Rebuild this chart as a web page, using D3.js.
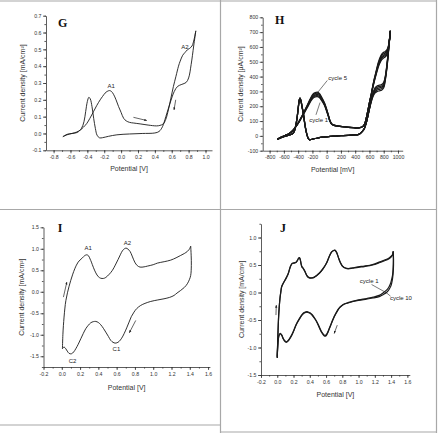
<!DOCTYPE html>
<html>
<head>
<meta charset="utf-8">
<script src="https://cdn.jsdelivr.net/npm/d3@7"></script>
<style>
  body { margin: 0; background: #fff; }
  svg { display: block; font-family: "Liberation Sans", Arial, sans-serif; }
</style>
</head>
<body>
<svg id="chart" width="439" height="433"></svg>
<script>
// ---------- tick values ----------
const gXTicks = [-0.8, -0.6, -0.4, -0.2, 0.0, 0.2, 0.4, 0.6, 0.8, 1.0];
const gYTicks = [-0.1, 0.0, 0.1, 0.2, 0.3, 0.4, 0.5, 0.6, 0.7];
const hXTicks = [-800, -600, -400, -200, 0, 200, 400, 600, 800, 1000];
const hYTicks = [-100, 0, 100, 200, 300, 400, 500, 600, 700, 800];
const iXTicks = [-0.2, 0.0, 0.2, 0.4, 0.6, 0.8, 1.0, 1.2, 1.4, 1.6];
const iYTicks = [-1.5, -1.0, -0.5, 0.0, 0.5, 1.0, 1.5];
const jXTicks = [-0.2, 0.0, 0.2, 0.4, 0.6, 0.8, 1.0, 1.2, 1.4, 1.6];
const jYTicks = [-1.5, -1.0, -0.5, 0.0, 0.5, 1.0];

// ---------- G : potential [V], current [mA/cm2] ----------
const gForward = [[-0.69,-0.019],[-0.64,-0.005],[-0.58,0.0],[-0.52,0.006],[-0.47,0.03],[-0.44,0.07],[-0.42,0.13],
  [-0.40,0.19],[-0.382,0.215],[-0.365,0.205],[-0.345,0.16],[-0.325,0.09],[-0.305,0.03],[-0.285,-0.01],[-0.255,-0.026],
  [-0.22,-0.025],[-0.15,-0.017],[-0.05,-0.008],[0.1,-0.003],[0.25,0.0],[0.40,0.003],[0.45,0.012],[0.49,0.04],[0.53,0.1],
  [0.58,0.18],[0.63,0.25],[0.67,0.28],[0.72,0.292],[0.77,0.303],[0.80,0.33],[0.83,0.41],[0.86,0.52],[0.885,0.61]];
const gReverse = [[0.885,0.61],[0.865,0.56],[0.84,0.52],[0.81,0.505],[0.785,0.497],[0.755,0.48],[0.73,0.465],[0.70,0.43],
  [0.68,0.40],[0.65,0.34],[0.62,0.28],[0.59,0.21],[0.56,0.14],[0.53,0.085],[0.50,0.057],[0.46,0.048],[0.42,0.045],
  [0.32,0.05],[0.225,0.057],[0.15,0.062],[0.10,0.066],[0.06,0.075],[0.03,0.09],[0.0,0.125],[-0.03,0.16],[-0.06,0.2],
  [-0.09,0.233],[-0.115,0.25],[-0.138,0.255],[-0.165,0.25],[-0.19,0.24],[-0.22,0.22],[-0.248,0.2],[-0.29,0.165],
  [-0.327,0.13],[-0.37,0.09],[-0.406,0.06],[-0.445,0.038],[-0.485,0.02],[-0.53,0.008],[-0.583,0.0],[-0.63,-0.006],[-0.69,-0.019]];

// ---------- H : potential [mV], current [uA/cm2], cycles 1..5 ----------
const hCycle1Fwd = [[-693,-23],[-640,-12],[-580,-2],[-520,6],[-480,14],[-455,30],[-435,65],[-415,120],[-398,188],[-384,238],
  [-374,250],[-362,236],[-345,194],[-327,150],[-308,85],[-290,35],[-272,0],[-255,-20],[-240,-27],[-200,-22],[-140,-16],
  [-60,-9],[0,-6],[100,-2],[200,1],[300,4],[400,6],[440,9],[470,16],[500,30],[530,52],[560,96],[590,160],[620,220],
  [650,265],[680,290],[710,300],[740,304],[770,308],[800,325],[825,385],[850,480],[870,585],[893,705]];
const hCycle2Fwd = [[-693,-23],[-640,-12],[-580,-2],[-520,6],[-480,14],[-455,30],[-435,65],[-415,121],[-398,190],[-384,240],
  [-374,252],[-362,238],[-345,195],[-327,150],[-308,85],[-290,35],[-272,0],[-255,-20],[-240,-27],[-200,-22],[-140,-16],
  [-60,-9],[0,-6],[100,-2],[200,1],[300,4],[400,6],[440,9],[470,16],[500,30],[530,52],[560,97],[590,161],[620,224],
  [650,272],[680,299],[710,310],[740,314],[770,318],[800,334],[825,392],[850,486],[870,590],[893,707]];
const hCycle3Fwd = [[-693,-23],[-640,-12],[-580,-2],[-520,6],[-480,14],[-455,30],[-435,65],[-415,121],[-398,192],[-384,242],
  [-374,254],[-362,240],[-345,196],[-327,151],[-308,86],[-290,36],[-272,0],[-255,-20],[-240,-27],[-200,-22],[-140,-16],
  [-60,-9],[0,-6],[100,-2],[200,1],[300,4],[400,6],[440,9],[470,16],[500,30],[530,52],[560,97],[590,162],[620,228],
  [650,280],[680,308],[710,320],[740,324],[770,328],[800,344],[825,398],[850,493],[870,594],[893,708]];
const hCycle4Fwd = [[-693,-23],[-640,-12],[-580,-2],[-520,6],[-480,14],[-455,30],[-435,65],[-415,122],[-398,194],[-384,244],
  [-374,255],[-362,241],[-345,197],[-327,152],[-308,86],[-290,36],[-272,0],[-255,-20],[-240,-27],[-200,-22],[-140,-16],
  [-60,-9],[0,-6],[100,-2],[200,1],[300,4],[400,6],[440,9],[470,16],[500,30],[530,52],[560,98],[590,164],[620,232],
  [650,286],[680,316],[710,329],[740,333],[770,337],[800,353],[825,404],[850,499],[870,597],[893,709]];
const hCycle5Fwd = [[-693,-23],[-640,-12],[-580,-2],[-520,6],[-480,14],[-455,30],[-435,65],[-415,122],[-398,195],[-384,245],
  [-374,256],[-362,242],[-345,198],[-327,152],[-308,86],[-290,36],[-272,0],[-255,-20],[-240,-27],[-200,-22],[-140,-16],
  [-60,-9],[0,-6],[100,-2],[200,1],[300,4],[400,6],[440,9],[470,16],[500,30],[530,52],[560,98],[590,165],[620,235],
  [650,292],[680,325],[710,338],[740,342],[770,346],[800,362],[825,410],[850,505],[870,600],[893,710]];
const hCycle1Rev = [[893,705],[880,640],[862,580],[841,545],[815,530],[794,524],[770,512],[745,490],[724,465],[700,425],
  [680,390],[664,360],[640,310],[620,262],[607,237],[585,185],[560,128],[537,85],[510,64],[467,55],[420,53],[374,55],
  [300,58],[220,62],[140,67],[100,71],[70,78],[45,100],[23,132],[0,165],[-30,205],[-70,238],[-100,257],[-131,265],
  [-160,263],[-196,252],[-230,228],[-271,192],[-320,150],[-374,104],[-420,70],[-467,40],[-520,18],[-561,7],[-620,-5],[-693,-23]];
const hCycle2Rev = [[893,707],[880,643],[862,585],[841,553],[815,540],[794,534],[770,522],[745,499],[724,473],[700,432],
  [680,395],[664,364],[640,312],[620,264],[607,239],[585,186],[560,129],[537,85],[510,64],[467,55],[420,53],[374,55],
  [300,58],[220,62],[140,67],[100,72],[70,79],[45,101],[23,135],[0,169],[-30,209],[-70,244],[-100,264],[-131,272],
  [-160,270],[-196,259],[-230,234],[-271,196],[-320,152],[-374,105],[-420,70],[-467,40],[-520,18],[-561,7],[-620,-5],[-693,-23]];
const hCycle3Rev = [[893,708],[880,645],[862,590],[841,561],[815,549],[794,543],[770,531],[745,507],[724,480],[700,438],
  [680,400],[664,369],[640,315],[620,266],[607,240],[585,187],[560,129],[537,86],[510,64],[467,55],[420,53],[374,55],
  [300,58],[220,62],[140,67],[100,72],[70,80],[45,102],[23,137],[0,172],[-30,213],[-70,249],[-100,271],[-131,280],
  [-160,277],[-196,266],[-230,240],[-271,201],[-320,155],[-374,106],[-420,71],[-467,40],[-520,18],[-561,7],[-620,-5],[-693,-23]];
const hCycle4Rev = [[893,709],[880,648],[862,595],[841,570],[815,558],[794,553],[770,541],[745,516],[724,488],[700,444],
  [680,405],[664,374],[640,318],[620,268],[607,241],[585,189],[560,130],[537,86],[510,65],[467,56],[420,54],[374,56],
  [300,59],[220,63],[140,68],[100,73],[70,80],[45,104],[23,140],[0,176],[-30,218],[-70,255],[-100,278],[-131,288],
  [-160,285],[-196,273],[-230,245],[-271,205],[-320,158],[-374,108],[-420,71],[-467,41],[-520,18],[-561,7],[-620,-5],[-693,-23]];
const hCycle5Rev = [[893,710],[880,650],[862,600],[841,578],[815,568],[794,562],[770,550],[745,525],[724,495],[700,450],
  [680,410],[664,378],[640,320],[620,270],[607,243],[585,190],[560,130],[537,86],[510,65],[467,56],[420,54],[374,56],
  [300,59],[220,63],[140,68],[100,73],[70,81],[45,105],[23,142],[0,180],[-30,222],[-70,260],[-100,284],[-131,295],
  [-160,292],[-196,280],[-230,250],[-271,209],[-320,160],[-374,110],[-420,72],[-467,41],[-520,18],[-561,7],[-620,-5],[-693,-23]];

// ---------- I : potential [V], current [mA/cm2] ----------
const iForward = [[0.007,-1.326],[0.012,-1.0],[0.018,-0.78],[0.033,-0.40],[0.045,-0.2],[0.062,-0.023],[0.08,0.13],
  [0.098,0.264],[0.12,0.41],[0.142,0.535],[0.16,0.62],[0.179,0.69],[0.2,0.74],[0.226,0.79],[0.25,0.84],[0.273,0.86],
  [0.291,0.84],[0.31,0.76],[0.324,0.69],[0.345,0.57],[0.372,0.44],[0.4,0.35],[0.426,0.315],[0.455,0.31],[0.481,0.333],
  [0.52,0.41],[0.554,0.50],[0.585,0.62],[0.616,0.752],[0.64,0.86],[0.663,0.953],[0.685,1.0],[0.703,1.016],[0.725,0.99],
  [0.747,0.938],[0.77,0.83],[0.798,0.69],[0.825,0.61],[0.856,0.574],[0.9,0.58],[0.936,0.597],[1.0,0.63],[1.046,0.667],
  [1.12,0.7],[1.191,0.736],[1.25,0.79],[1.3,0.845],[1.34,0.89],[1.373,0.938],[1.395,0.99],[1.41,1.062]];
const iReverse = [[1.41,1.062],[1.415,0.85],[1.417,0.612],[1.41,0.38],[1.395,0.28],[1.373,0.186],[1.34,0.1],[1.3,0.031],
  [1.26,-0.03],[1.228,-0.085],[1.18,-0.13],[1.118,-0.163],[1.05,-0.19],[0.973,-0.225],[0.91,-0.27],[0.863,-0.318],
  [0.82,-0.39],[0.79,-0.473],[0.76,-0.58],[0.736,-0.705],[0.71,-0.84],[0.681,-0.977],[0.655,-1.08],[0.627,-1.155],
  [0.605,-1.185],[0.583,-1.194],[0.56,-1.175],[0.536,-1.132],[0.51,-1.04],[0.481,-0.938],[0.455,-0.85],[0.426,-0.767],
  [0.4,-0.715],[0.372,-0.69],[0.345,-0.695],[0.317,-0.721],[0.29,-0.78],[0.262,-0.86],[0.235,-0.97],[0.208,-1.093],
  [0.18,-1.22],[0.153,-1.326],[0.13,-1.4],[0.106,-1.442],[0.08,-1.434],[0.06,-1.38],[0.044,-1.326],[0.026,-1.287],
  [0.015,-1.3],[0.007,-1.326]];

// ---------- J : potential [V], current [mA/cm2], cycle 1 and cycle 10 ----------
const jCycle1Fwd = [[0.0,-1.168],[0.005,-0.9],[0.012,-0.593],[0.02,-0.35],[0.033,-0.109],[0.045,0.03],[0.053,0.103],
  [0.07,0.16],[0.094,0.224],[0.115,0.28],[0.135,0.345],[0.152,0.43],[0.168,0.496],[0.185,0.53],[0.21,0.54],[0.23,0.548],
  [0.25,0.59],[0.262,0.625],[0.272,0.635],[0.283,0.6],[0.292,0.53],[0.303,0.47],[0.315,0.45],[0.328,0.42],[0.345,0.37],
  [0.369,0.3],[0.395,0.27],[0.422,0.268],[0.455,0.28],[0.484,0.31],[0.515,0.35],[0.545,0.4],[0.575,0.46],[0.607,0.54],
  [0.64,0.66],[0.668,0.74],[0.69,0.765],[0.709,0.77],[0.73,0.73],[0.75,0.648],[0.775,0.55],[0.803,0.48],[0.84,0.445],
  [0.873,0.436],[0.93,0.45],[0.996,0.466],[1.07,0.48],[1.139,0.496],[1.2,0.52],[1.262,0.557],[1.32,0.59],[1.365,0.617],
  [1.4,0.66],[1.418,0.69],[1.426,0.75]];
const jCycle1Rev = [[1.426,0.75],[1.428,0.617],[1.425,0.45],[1.418,0.315],[1.405,0.23],[1.393,0.163],[1.37,0.09],
  [1.344,0.042],[1.3,-0.01],[1.262,-0.048],[1.18,-0.085],[1.098,-0.109],[1.0,-0.135],[0.934,-0.157],[0.87,-0.185],
  [0.811,-0.218],[0.775,-0.26],[0.75,-0.303],[0.72,-0.38],[0.689,-0.472],[0.665,-0.56],[0.639,-0.654],[0.618,-0.73],
  [0.598,-0.775],[0.582,-0.778],[0.566,-0.757],[0.54,-0.7],[0.516,-0.623],[0.49,-0.54],[0.463,-0.472],[0.43,-0.405],
  [0.402,-0.369],[0.375,-0.35],[0.352,-0.351],[0.325,-0.37],[0.299,-0.412],[0.27,-0.48],[0.238,-0.563],[0.205,-0.68],
  [0.176,-0.775],[0.145,-0.85],[0.115,-0.896],[0.095,-0.88],[0.074,-0.835],[0.055,-0.77],[0.041,-0.745],[0.025,-0.763],
  [0.012,-0.85],[0.005,-0.98],[0.0,-1.168]];
const jCycle10Fwd = [[0.0,-1.19],[0.005,-0.92],[0.012,-0.6],[0.02,-0.36],[0.033,-0.115],[0.045,0.02],[0.053,0.095],
  [0.07,0.155],[0.094,0.218],[0.115,0.275],[0.135,0.34],[0.152,0.425],[0.168,0.49],[0.185,0.525],[0.21,0.535],[0.23,0.545],
  [0.25,0.585],[0.262,0.62],[0.272,0.63],[0.283,0.595],[0.292,0.525],[0.303,0.465],[0.315,0.445],[0.328,0.415],[0.345,0.365],
  [0.369,0.295],[0.395,0.265],[0.422,0.262],[0.455,0.275],[0.484,0.305],[0.515,0.345],[0.545,0.395],[0.575,0.455],[0.607,0.535],
  [0.64,0.655],[0.668,0.735],[0.69,0.76],[0.709,0.765],[0.73,0.725],[0.75,0.643],[0.775,0.545],[0.803,0.475],[0.84,0.44],
  [0.873,0.43],[0.93,0.443],[0.996,0.458],[1.07,0.472],[1.139,0.488],[1.2,0.51],[1.262,0.545],[1.32,0.578],[1.365,0.605],
  [1.4,0.645],[1.418,0.68],[1.426,0.74]];
const jCycle10Rev = [[1.426,0.74],[1.43,0.6],[1.428,0.42],[1.42,0.28],[1.41,0.19],[1.398,0.12],[1.375,0.055],
  [1.35,0.01],[1.3,-0.04],[1.262,-0.07],[1.18,-0.1],[1.098,-0.12],[1.0,-0.143],[0.934,-0.163],[0.87,-0.19],
  [0.811,-0.222],[0.775,-0.265],[0.75,-0.31],[0.72,-0.388],[0.689,-0.48],[0.665,-0.57],[0.639,-0.665],[0.618,-0.742],
  [0.598,-0.79],[0.582,-0.792],[0.566,-0.77],[0.54,-0.712],[0.516,-0.635],[0.49,-0.55],[0.463,-0.482],[0.43,-0.415],
  [0.402,-0.378],[0.375,-0.36],[0.352,-0.36],[0.325,-0.38],[0.299,-0.422],[0.27,-0.49],[0.238,-0.573],[0.205,-0.69],
  [0.176,-0.785],[0.145,-0.86],[0.115,-0.905],[0.095,-0.89],[0.074,-0.845],[0.055,-0.78],[0.041,-0.755],[0.025,-0.773],
  [0.012,-0.86],[0.005,-1.0],[0.0,-1.19]];

const svg = d3.select('#chart');

// arrow head for the scan-direction arrows
svg.append('defs').append('marker')
    .attr('id', 'head')
    .attr('viewBox', '0 0 10 10')
    .attr('refX', 9).attr('refY', 5)
    .attr('markerWidth', 4).attr('markerHeight', 4)
    .attr('orient', 'auto')
  .append('path')
    .attr('d', 'M0,1 L10,5 L0,9 Z')
    .attr('fill', '#222');

// table grid lines around the panels
const grid = [
    [0, 1, 437, 1], [0, 209.5, 437, 209.5], [0, 425, 220, 425], [221, 432, 437, 432],
    [220.5, 0, 220.5, 433], [436.5, 0, 436.5, 433]
];
svg.selectAll('line.grid')
    .data(grid)
    .join('line')
    .attr('class', 'grid')
    .attr('x1', d => d[0]).attr('y1', d => d[1])
    .attr('x2', d => d[2]).attr('y2', d => d[3])
    .attr('stroke', '#a8a8a8')
    .attr('stroke-width', 1.2);

function minorTicks(domain, step) {
    const lo = Math.ceil(domain[0] / step - 1e-6), hi = Math.floor(domain[1] / step + 1e-6);
    return d3.range(lo, hi + 1).map(i => +(i * step).toFixed(6));
}

function drawPanel(p) {
    const x = d3.scaleLinear().domain(p.xDomain).range(p.xRange);
    const y = d3.scaleLinear().domain(p.yDomain).range(p.yRange);
    const g = svg.append('g');
    const y0 = p.yRange[0], x0 = p.xRange[0];

    // minor ticks first, then the major axes
    g.append('g')
        .attr('transform', `translate(0,${y0})`)
        .call(d3.axisBottom(x).tickValues(minorTicks(p.xDomain, p.xMinor)).tickSize(1.6).tickFormat(''))
        .call(a => a.select('.domain').remove());
    g.append('g')
        .attr('transform', `translate(${x0},0)`)
        .call(d3.axisLeft(y).tickValues(minorTicks(p.yDomain, p.yMinor)).tickSize(1.6).tickFormat(''))
        .call(a => a.select('.domain').remove());

    const xa = g.append('g')
        .attr('transform', `translate(0,${y0})`)
        .call(d3.axisBottom(x).tickValues(p.xTicks).tickSize(3).tickSizeOuter(0).tickPadding(2)
            .tickFormat(p.xFormat));
    const ya = g.append('g')
        .attr('transform', `translate(${x0},0)`)
        .call(d3.axisLeft(y).tickValues(p.yTicks).tickSize(3).tickSizeOuter(0).tickPadding(1.5)
            .tickFormat(p.yFormat));
    [xa, ya].forEach(a => {
        a.attr('font-size', 5.2).attr('font-family', null);
        a.selectAll('text').attr('fill', '#333');
        a.selectAll('line, path').attr('stroke', '#333').attr('stroke-width', 0.8);
    });
    g.selectAll('g.tick line').attr('stroke', '#333').attr('stroke-width', 0.8);

    // axis titles
    g.append('text')
        .attr('x', (p.xRange[0] + p.xRange[1]) / 2)
        .attr('y', p.xTitleY)
        .attr('text-anchor', 'middle')
        .style('font-size', '7px')
        .attr('fill', '#333')
        .text(p.xTitle);
    g.append('text')
        .attr('transform', `translate(${p.yTitleX},${(p.yRange[0] + p.yRange[1]) / 2}) rotate(-90)`)
        .attr('text-anchor', 'middle')
        .attr('dy', '0.35em')
        .style('font-size', '7px')
        .attr('fill', '#333')
        .text(p.yTitle);

    // panel letter
    g.append('text')
        .attr('x', p.letterPos[0]).attr('y', p.letterPos[1])
        .style('font-family', '"Liberation Serif", "DejaVu Serif", serif')
        .style('font-weight', 'bold')
        .style('font-size', '12px')
        .attr('fill', '#111')
        .text(p.letter);

    // curves
    const line = d3.line()
        .x(d => x(d[0]))
        .y(d => y(d[1]))
        .curve(d3.curveCatmullRom.alpha(0.5));
    g.selectAll('path.cv')
        .data(p.series)
        .join('path')
        .attr('class', 'cv')
        .attr('fill', 'none')
        .attr('stroke', '#1a1a1a')
        .attr('stroke-width', p.lineWidth)
        .attr('stroke-linejoin', 'round')
        .attr('d', d => line(d));

    // peak labels
    (p.labels || []).forEach(l => {
        g.append('text')
            .attr('x', x(l[1])).attr('y', y(l[2]))
            .attr('text-anchor', l[3] || 'middle')
            .style('font-size', '6px')
            .attr('fill', '#222')
            .text(l[0]);
    });

    // leader lines for cycle labels
    (p.leaders || []).forEach(l => {
        g.append('line')
            .attr('x1', x(l[0])).attr('y1', y(l[1]))
            .attr('x2', x(l[2])).attr('y2', y(l[3]))
            .attr('stroke', '#222').attr('stroke-width', 0.6);
    });

    // scan direction arrows
    (p.arrows || []).forEach(a => {
        g.append('line')
            .attr('x1', x(a[0])).attr('y1', y(a[1]))
            .attr('x2', x(a[2])).attr('y2', y(a[3]))
            .attr('stroke', '#222').attr('stroke-width', 0.7)
            .attr('marker-end', 'url(#head)');
    });
}

const fmt1 = d => d.toFixed(1);
const fmt0 = d => d.toFixed(0);

drawPanel({
    letter: 'G', letterPos: [58, 27.3],
    xDomain: [-0.89, 1.077], xRange: [46, 212], xTicks: gXTicks, xMinor: 0.1, xFormat: fmt1,
    yDomain: [-0.1, 0.7], yRange: [150.3, 15.7], yTicks: gYTicks, yMinor: 0.05, yFormat: fmt1,
    xTitle: 'Potential [V]', xTitleY: 170.8,
    yTitle: 'Current density [mA/cm\u00b2]', yTitleX: 22.3,
    lineWidth: 0.9,
    series: [gForward, gReverse],
    labels: [['A1', -0.118, 0.271], ['A2', 0.757, 0.505]],
    arrows: [[0.146, 0.096, 0.304, 0.077], [0.647, 0.2, 0.627, 0.14]]
});

drawPanel({
    letter: 'H', letterPos: [275, 24],
    xDomain: [-897, 1066], xRange: [262.7, 402.7], xTicks: hXTicks, xMinor: 100, xFormat: fmt0,
    yDomain: [-100, 800], yRange: [150.7, 17.3], yTicks: hYTicks, yMinor: 50, yFormat: fmt0,
    xTitle: 'Potential [mV]', xTitleY: 171.8,
    yTitle: 'Current density [\u03bcA/cm\u00b2]', yTitleX: 240.7,
    lineWidth: 1.25,
    series: [hCycle1Fwd, hCycle1Rev, hCycle2Fwd, hCycle2Rev, hCycle3Fwd, hCycle3Rev,
             hCycle4Fwd, hCycle4Rev, hCycle5Fwd, hCycle5Rev],
    labels: [['cycle 5', 23, 378, 'start'], ['cycle 1', -243, 97, 'start']],
    leaders: [[9, 374, -126, 293], [-150, 142, -93, 225]]
});

drawPanel({
    letter: 'I', letterPos: [57.7, 231.7],
    xDomain: [-0.2, 1.62], xRange: [43.5, 209.9], xTicks: iXTicks, xMinor: 0.1, xFormat: fmt1,
    yDomain: [-1.75, 1.5], yRange: [367, 227.3], yTicks: iYTicks, yMinor: 0.25, yFormat: fmt1,
    xTitle: 'Potential [V]', xTitleY: 389.8,
    yTitle: 'Current density [mA/cm\u00b2]', yTitleX: 22,
    lineWidth: 0.9,
    series: [iForward, iReverse],
    labels: [['A1', 0.288, 0.966], ['A2', 0.718, 1.08], ['C1', 0.598, -1.38], ['C2', 0.117, -1.65]],
    arrows: [[0.018, -0.124, 0.055, 0.225], [0.809, -0.667, 0.739, -0.953]]
});

drawPanel({
    letter: 'J', letterPos: [280, 231.7],
    xDomain: [-0.2, 1.63], xRange: [261, 409.8], xTicks: jXTicks, xMinor: 0.1, xFormat: fmt1,
    yDomain: [-1.5, 1.25], yRange: [375, 223.75], yTicks: jYTicks, yMinor: 0.25, yFormat: fmt1,
    xTitle: 'Potential [V]', xTitleY: 396.5,
    yTitle: 'Current density [mA/cm\u00b2]', yTitleX: 242,
    lineWidth: 1.2,
    series: [jCycle1Fwd, jCycle1Rev, jCycle10Fwd, jCycle10Rev],
    labels: [['cycle 1', 1.016, 0.176, 'start'], ['cycle 10', 1.385, -0.145, 'start']],
    leaders: [[1.16, 0.145, 1.336, 0.0], [1.393, -0.067, 1.328, 0.012]],
    arrows: [[-0.016, -0.41, -0.012, -0.23], [0.738, -0.593, 0.70, -0.745]]
});
</script>
</body>
</html>
